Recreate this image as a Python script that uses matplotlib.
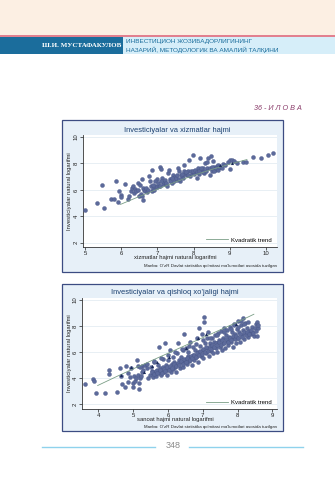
import matplotlib
matplotlib.use("Agg")
import matplotlib.pyplot as plt
from matplotlib.patches import Rectangle
from matplotlib.lines import Line2D

plt.rcParams['font.family'] = ['Liberation Sans', 'DejaVu Sans']

# ---------------- data ----------------
header_author = "Ш.И. МУСТАФАКУЛОВ"
header_title1 = "ИНВЕСТИЦИОН ЖОЗИБАДОРЛИГИНИНГ"
header_title2 = "НАЗАРИЙ, МЕТОДОЛОГИК ВА АМАЛИЙ ТАЛҚИНИ"
appendix_label = "36 - И Л О В А"
page_number = "348"

title1 = "Investiciyalar va xizmatlar hajmi"
xlabel1 = "xizmatlar hajmi natural logarifmi"
title2 = "Investiciyalar va qishloq xo’jaligi hajmi"
xlabel2 = "sanoat hajmi natural logarifmi"
ylabel = "Investiciyalar natural logarifmi"
legend_label = "Kvadratik trend"
source_note = "Manba: O'zR Davlat statistika qo'mitasi ma'lumotlari asosida tuzilgan"

xticks1 = [5, 6, 7, 8, 9, 10]
xticks2 = [4, 5, 6, 7, 8, 9]
yticks = [2, 4, 6, 8, 10]

x1 = [5.0, 5.34, 5.53, 5.47, 5.71, 5.8, 5.85, 5.92, 5.94, 5.99, 5.99, 6.1, 6.2, 6.22, 6.26, 6.29, 6.32,
      6.38, 6.45, 6.49, 6.52, 6.55, 6.56, 6.59, 6.61, 6.63, 6.66, 6.72, 6.77, 6.8, 6.81, 6.84, 6.85, 6.89,
      6.93, 6.98, 7.0, 7.03, 7.07, 7.09, 7.12, 7.15, 7.18, 7.24, 7.27, 7.3, 7.32, 7.35, 7.39, 7.44, 7.46,
      7.49, 7.53, 7.58, 7.6, 7.62, 7.67, 7.71, 7.73, 7.76, 7.81, 7.84, 7.88, 7.9, 7.95, 7.99, 8.01, 8.07,
      8.08, 8.13, 8.16, 8.18, 8.22, 8.25, 8.29, 8.31, 8.36, 8.38, 8.4, 8.45, 8.47, 8.5, 8.53, 8.55, 8.6,
      8.64, 8.68, 8.73, 8.8, 8.87, 8.96, 8.99, 9.0, 9.05, 9.1, 9.19, 9.36, 9.45, 9.63, 9.85, 10.06, 10.18,
      6.93, 7.02, 7.11, 7.2, 7.24, 7.36, 7.41, 7.5, 7.54, 7.59, 7.64, 7.69, 7.73, 7.79, 7.85, 7.92, 7.97,
      8.03, 8.1, 8.16, 8.19, 8.25, 8.34, 8.44, 8.5, 8.56, 8.62, 8.66, 8.71, 8.78,
      6.34, 6.41, 6.47, 6.56, 6.68, 6.75, 6.87, 6.9, 7.07]
y1 = [4.44, 5.03, 4.64, 6.37, 5.3, 5.28, 6.67, 5.05, 5.89, 5.58, 5.43, 6.45, 5.33, 5.5, 5.91, 6.14, 6.29,
      6.06, 6.52, 5.56, 6.39, 5.68, 6.83, 6.16, 5.23, 6.01, 5.89, 5.81, 7.03, 6.65, 6.27, 7.49, 5.89, 6.06,
      6.32, 6.2, 6.85, 6.32, 7.72, 7.6, 6.9, 6.45, 6.6, 6.41, 6.26, 7.28, 7.54, 6.83, 6.52, 7.16, 6.65,
      6.95, 6.77, 7.68, 7.43, 6.7, 7.03, 6.9, 7.92, 7.21, 7.11, 7.43, 8.23, 7.03, 7.28, 8.63, 7.21, 7.41,
      6.9, 7.68, 7.21, 8.38, 7.41, 7.63, 7.28, 8.0, 8.1, 7.66, 8.43, 7.16, 8.56, 7.46, 8.18, 7.72, 7.54,
      7.8, 7.92, 7.72, 7.97, 7.92, 8.13, 8.23, 7.58, 8.23, 8.18, 8.05, 8.08, 8.13, 8.53, 8.43, 8.63, 8.76,
      6.65, 6.5, 6.65, 6.78, 6.52, 6.7, 6.9, 6.9, 7.16, 6.85, 7.16, 7.21, 7.41, 7.33, 7.16, 7.41, 7.46,
      7.54, 7.33, 7.46, 7.66, 7.36, 7.41, 7.63, 7.72, 7.41, 7.66, 7.54, 7.74, 7.66,
      5.76, 5.89, 6.01, 5.5, 6.14, 6.01, 6.4, 6.01, 6.27]
tri_x1 = [8.73, 9.05]
tri_y1 = [7.89, 8.06]
trend_x1 = [5.98, 6.5, 7.0, 7.5, 8.0, 8.5, 9.0, 9.47]
trend_y1 = [4.9, 5.5, 6.05, 6.6, 7.1, 7.55, 7.95, 8.3]

x2 = [3.62, 3.86, 3.88, 3.93, 4.19, 4.32, 4.31, 4.53, 4.62, 4.65, 4.68, 4.77, 4.8, 4.84, 4.86, 4.91, 4.94,
      4.99, 5.01, 5.02, 5.05, 5.08, 5.12, 5.13, 5.15, 5.17, 5.18, 5.2, 5.23, 5.25, 5.26, 5.29, 5.34, 5.39,
      5.44, 5.48, 5.5, 5.53, 5.56, 5.58, 5.61, 5.63, 5.66, 5.7, 5.72, 5.73, 5.75, 5.77, 5.79, 5.82, 5.85,
      5.87, 5.89, 5.92, 5.94, 5.96, 5.98, 6.01, 6.03, 6.06, 6.08, 6.11, 6.14, 6.16, 6.17, 6.2, 6.23, 6.25,
      6.27, 6.3, 6.32, 6.35, 6.37, 6.39, 6.42, 6.44, 6.46, 6.49, 6.52, 6.54, 6.57, 6.59, 6.61, 6.63, 6.65,
      6.68, 6.71, 6.73, 6.76, 6.78, 6.81, 6.83, 6.85, 6.87, 6.9, 6.92, 6.94, 6.97, 7.0, 7.02, 7.04, 7.05,
      7.07, 7.08, 7.11, 7.13, 7.16, 7.19, 7.21, 7.23, 7.26, 7.29, 7.3, 7.33, 7.35, 7.38, 7.4, 7.42, 7.45,
      7.48, 7.5, 7.52, 7.54, 7.57, 7.59, 7.61, 7.64, 7.67, 7.69, 7.71, 7.74, 7.76, 7.78, 7.8, 7.83, 7.86,
      7.88, 7.9, 7.93, 7.96, 7.98, 8.0, 8.02, 8.04, 8.07, 8.09, 8.12, 8.15, 8.17, 8.19, 8.21, 8.24, 8.26,
      8.29, 8.31, 8.34, 8.38, 8.41, 8.43, 8.47, 8.5, 8.53, 8.57, 8.6,
      5.55, 5.6, 5.65, 5.7, 5.78, 5.83, 5.88, 5.93, 5.98, 6.03, 6.07, 6.12, 6.18, 6.22, 6.28, 6.33, 6.38,
      6.43, 6.47, 6.52, 6.56, 6.62, 6.66, 6.7, 6.75, 6.8, 6.84, 6.88, 6.93, 6.97, 7.02, 7.06, 7.1, 7.15,
      7.2, 7.24, 7.28, 7.33, 7.37, 7.42, 7.47, 7.52, 7.56, 7.62, 7.66, 7.72, 7.77, 7.82, 7.87, 7.92, 7.97,
      8.02, 8.08, 8.13, 8.18, 8.23, 8.28, 8.33, 8.38, 8.45, 8.52, 8.56, 8.6,
      5.2, 5.4, 5.6, 5.8, 6.0, 6.2, 6.4, 6.6, 6.8, 7.0, 7.2, 7.4, 7.6, 7.8, 8.0, 8.2, 8.1, 7.9]
y2 = [3.54, 3.9, 3.77, 2.82, 2.87, 4.59, 4.28, 2.95, 4.79, 4.18, 3.51, 3.33, 4.95, 4.36, 3.72, 4.1, 4.79,
      3.33, 3.59, 4.18, 3.77, 3.97, 5.38, 4.92, 4.23, 3.15, 3.64, 4.03, 4.18, 4.49, 4.95, 4.62, 5.0, 4.79,
      3.97, 4.23, 4.87, 4.54, 4.36, 4.1, 5.21, 4.44, 4.18, 4.62, 5.0, 6.41, 4.36, 4.74, 4.23, 4.54, 5.46,
      4.87, 4.44, 6.67, 5.0, 4.62, 4.23, 5.38, 4.79, 6.15, 4.49, 5.05, 4.69, 5.64, 5.21, 4.87, 4.49, 5.9,
      5.05, 6.67, 5.38, 4.74, 5.64, 5.21, 6.15, 4.87, 7.36, 5.38, 6.33, 5.05, 5.72, 6.03, 5.31, 6.79, 5.51,
      5.0, 6.41, 5.77, 5.38, 6.15, 5.64, 7.05, 5.26, 6.03, 7.87, 6.49, 5.72, 7.36, 6.15, 5.51, 8.69, 8.28,
      6.67, 5.9, 7.05, 6.28, 7.56, 5.72, 6.67, 6.08, 7.1, 6.41, 5.9, 6.79, 7.31, 6.28, 6.67, 6.03, 7.44,
      6.92, 6.41, 7.62, 6.15, 7.05, 6.67, 7.82, 6.33, 7.31, 6.85, 7.69, 6.54, 7.18, 7.95, 6.79, 7.51, 6.41,
      7.05, 8.13, 7.36, 6.67, 7.77, 7.1, 8.38, 7.56, 6.79, 8.08, 7.31, 8.59, 7.69, 7.0, 8.21, 7.44, 7.87,
      7.18, 8.28, 7.62, 7.36, 7.95, 7.56, 7.26, 7.82, 8.13, 8.28, 7.87,
      4.45, 4.3, 4.5, 4.35, 4.6, 4.4, 4.7, 4.55, 4.85, 4.65, 4.95, 4.8, 5.05, 4.9, 5.15, 5.0, 5.3,
      5.1, 5.45, 5.25, 5.55, 5.4, 5.7, 5.5, 5.8, 5.6, 5.95, 5.75, 6.05, 5.85, 6.2, 6.0, 6.35, 6.1,
      6.45, 6.25, 6.55, 6.35, 6.7, 6.5, 6.8, 6.55, 6.9, 6.7, 7.0, 6.8, 7.05, 6.9, 7.2, 7.0, 7.25,
      7.05, 7.4, 7.15, 7.5, 7.3, 7.55, 7.4, 7.7, 7.45, 7.6, 7.2, 8.05,
      4.85, 5.05, 5.3, 5.5, 5.75, 6.0, 6.2, 6.45, 6.65, 6.9, 7.1, 7.3, 7.55, 7.75, 7.95, 8.15, 8.4, 8.05]
tri_x2 = [4.65, 4.94, 5.32, 5.53, 5.7, 6.04, 6.52, 6.87, 7.09, 7.96]
tri_y2 = [4.23, 4.82, 4.44, 4.92, 5.21, 5.64, 6.28, 7.1, 7.36, 8.13]
trend_x2 = [3.98, 4.5, 5.0, 5.5, 6.0, 6.5, 7.0, 7.5, 8.0, 8.47]
trend_y2 = [3.42, 4.08, 4.7, 5.3, 5.9, 6.5, 7.1, 7.7, 8.3, 8.9]

# ---------------- layout helpers ----------------
W, H = 335, 480
fig = plt.figure(figsize=(W / 100, H / 100), dpi=100)
fig.patch.set_facecolor('white')


def fx(px):
    return px / W


def fy(py):
    return 1 - py / H


def rect(x0, y0, x1, y1, **kw):
    fig.patches.append(Rectangle((fx(x0), fy(y1)), fx(x1) - fx(x0), fy(y0) - fy(y1),
                                 transform=fig.transFigure, figure=fig, zorder=-5, **kw))


# header
rect(0, 0, W, 35.5, facecolor='#fcefe3', edgecolor='none')
rect(0, 35.5, W, 37, facecolor='#e2808f', edgecolor='none')
rect(0, 37, 123, 53.5, facecolor='#1b6d9c', edgecolor='none')
rect(123, 37, W, 53.5, facecolor='#d6eef9', edgecolor='none')
fig.text(fx(121), fy(45.5), header_author, color='white', fontsize=5.0, fontweight='bold',
         family='Liberation Serif', ha='right', va='center')
fig.text(fx(126), fy(41.5), header_title1, color='#1b6d9c', fontsize=4.6, ha='left', va='center')
fig.text(fx(126), fy(49.5), header_title2, color='#1b6d9c', fontsize=4.6, ha='left', va='center')

fig.text(fx(302), fy(109), appendix_label, color='#8b3d6b', fontsize=5.2, style='italic',
         ha='right', va='center')

# page number and rules
fig.text(fx(173), fy(446), page_number, color='#8a8a8a', fontsize=6.5, ha='center', va='center')
fig.lines.append(Line2D([fx(42), fx(155)], [fy(446.5), fy(446.5)], transform=fig.transFigure,
                        color='#8fd2ec', lw=1.0))
fig.lines.append(Line2D([fx(189), fx(303)], [fy(446.5), fy(446.5)], transform=fig.transFigure,
                        color='#8fd2ec', lw=1.0))

marker_color = '#5c6a9b'
edge_color = '#4a5888'
trend_color = '#7a9e86'
navy = '#1a3f6f'


def panel(frame, area, xlim, ylim, xs, ys, txs, tys, trx, try_, xticks, title, xlabel, title_y,
          xlabel_y, note_y, title_x, legend_y, ylabel_x):
    x0, y0, x1, y1 = frame
    rect(x0, y0, x1, y1, facecolor='#e7f0f8', edgecolor='#3c4c82', lw=0.9)
    ax0, ay0, ax1, ay1 = area
    ax = fig.add_axes([fx(ax0), fy(ay1), fx(ax1) - fx(ax0), fy(ay0) - fy(ay1)])
    ax.set_zorder(2)
    ax.set_facecolor('white')
    ax.set_xlim(*xlim)
    ax.set_ylim(*ylim)
    ax.set_xticks(xticks)
    ax.set_yticks(yticks)
    ax.grid(axis='y', color='#e4ecf2', lw=0.6)
    ax.set_axisbelow(True)
    for s in ['top', 'right']:
        ax.spines[s].set_visible(False)
    for s in ['left', 'bottom']:
        ax.spines[s].set_color('#333333')
        ax.spines[s].set_linewidth(0.6)
    ax.tick_params(axis='both', labelsize=4.3, length=2, width=0.5, pad=1.2, colors='#222222')
    for lab in ax.get_yticklabels():
        lab.set_rotation(90)
        lab.set_va('center')
    ax.scatter(xs, ys, s=8, color=marker_color, edgecolors=edge_color, linewidths=0.3, zorder=3)
    ax.plot(trx, try_, color=trend_color, lw=0.6, zorder=4)
    ax.scatter(txs, tys, s=5, marker='^', color='#1a2a5a', zorder=5, linewidths=0)
    ax.plot([], [], color=trend_color, lw=0.6, label=legend_label)
    ax.legend(loc='center left', bbox_to_anchor=((206 - ax0) / (ax1 - ax0), (ay1 - legend_y) / (ay1 - ay0)),
              frameon=False, fontsize=4.3, handlelength=3.6, handletextpad=0.6, borderaxespad=0,
              borderpad=0)
    fig.text(fx(title_x), fy(title_y), title, color=navy, fontsize=5.4, ha='center', va='center')
    fig.text(fx(175), fy(xlabel_y), xlabel, color='#222222', fontsize=4.2, ha='center', va='center')
    fig.text(fx(277), fy(note_y), source_note, color='#222222', fontsize=3.2, ha='right',
             va='center')
    fig.text(fx(ylabel_x), fy((ay0 + ay1) / 2), ylabel, color='#222222', fontsize=4.2,
             rotation=90, ha='center', va='center')
    return ax


panel((62, 119.5, 283, 272), (83, 135, 277, 247), (4.945, 10.30), (1.67, 10.16),
      x1, y1, tri_x1, tri_y1, trend_x1, trend_y1, xticks1, title1, xlabel1,
      131, 258, 265.5, 177, 240, 70)
panel((62, 284, 283, 431), (82, 298, 277, 409), (3.53, 9.135), (1.615, 10.15),
      x2, y2, tri_x2, tri_y2, trend_x2, trend_y2, xticks2, title2, xlabel2,
      292, 420, 427, 175, 402, 70)

fig.savefig('out.png', dpi=100)
